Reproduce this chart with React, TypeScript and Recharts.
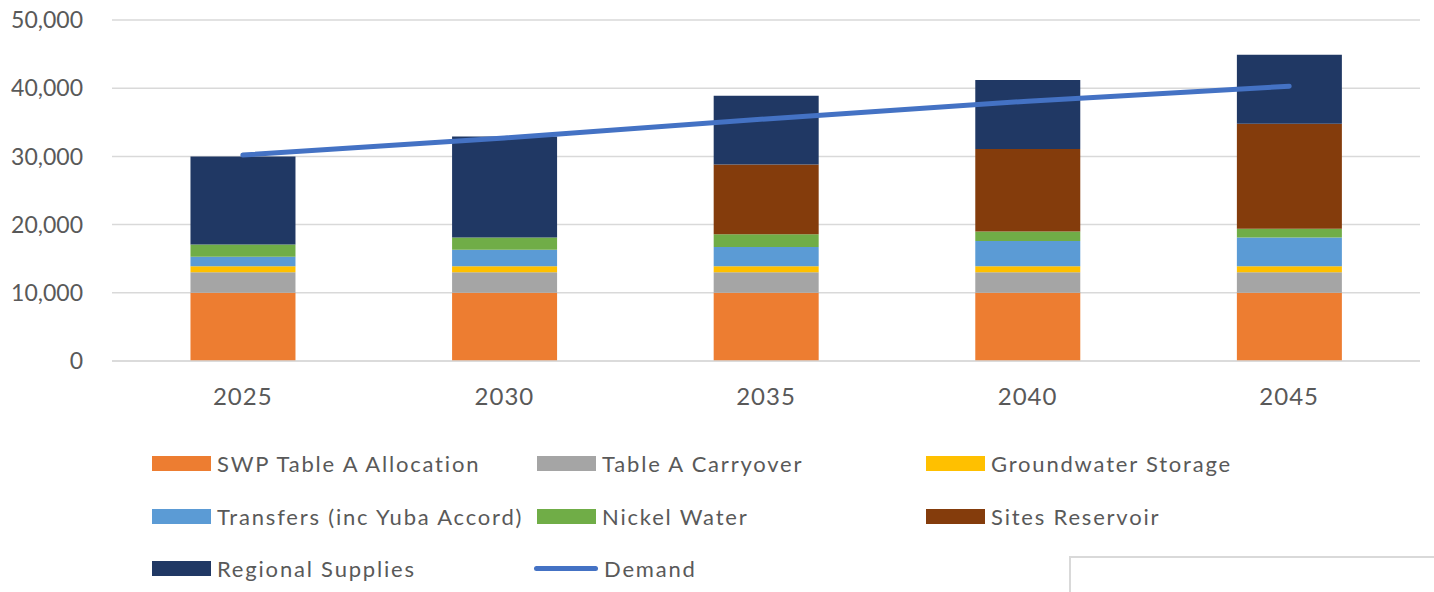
import {
  ComposedChart,
  Bar,
  Line,
  XAxis,
  YAxis,
  CartesianGrid,
} from "recharts";

const years = ["2025", "2030", "2035", "2040", "2045"];

const swpAllocation = [10000, 10000, 10000, 10000, 10000];
const carryover = [3000, 3000, 3000, 3000, 3000];
const groundwater = [900, 900, 900, 900, 900];
const transfers = [1400, 2400, 2800, 3700, 4200];
const nickelWater = [1800, 1800, 1900, 1400, 1300];
const sitesReservoir = [0, 0, 10200, 12100, 15400];
const regionalSupplies = [12900, 14800, 10100, 10100, 10100];
const demand = [30200, 32700, 35500, 38100, 40300];

const yTicks = [0, 10000, 20000, 30000, 40000, 50000];

const series = [
  { key: "swp", name: "SWP Table A Allocation", color: "#ED7D31", values: swpAllocation },
  { key: "carry", name: "Table A Carryover", color: "#A5A5A5", values: carryover },
  { key: "gw", name: "Groundwater Storage", color: "#FFC000", values: groundwater },
  { key: "transfers", name: "Transfers (inc Yuba Accord)", color: "#5B9BD5", values: transfers },
  { key: "nickel", name: "Nickel Water", color: "#70AD47", values: nickelWater },
  { key: "sites", name: "Sites Reservoir", color: "#843C0C", values: sitesReservoir },
  { key: "regional", name: "Regional Supplies", color: "#203864", values: regionalSupplies },
];

const DEMAND_COLOR = "#4472C4";
const TEXT = "#595959";
const GRID = "#D9D9D9";

const data = years.map((year, i) => {
  const row: Record<string, string | number> = { year, demand: demand[i] };
  series.forEach((s) => {
    row[s.key] = s.values[i];
  });
  return row;
});

const legendItems = [
  ...series.map((s) => ({ name: s.name, color: s.color, line: false })),
  { name: "Demand", color: DEMAND_COLOR, line: true },
];

const colX = [152, 537, 926];
const rowY = [463, 516, 568];

const ChartLegend = () => (
  <>
    {legendItems.map((item, i) => {
      const col = i % 3;
      const row = Math.floor(i / 3);
      return (
        <div
          key={item.name}
          style={{
            position: "absolute",
            left: colX[col],
            top: rowY[row] - 15,
            height: 30,
            display: "flex",
            alignItems: "center",
            whiteSpace: "nowrap",
          }}
        >
          {item.line ? (
            <div
              style={{
                width: 64,
                height: 5,
                borderRadius: 3,
                background: item.color,
                marginLeft: -3,
                marginRight: 6,
              }}
            />
          ) : (
            <div style={{ width: 59, height: 15, background: item.color, marginRight: 6 }} />
          )}
          <span
            style={{
              fontFamily: "Lato, sans-serif",
              fontSize: 22,
              color: TEXT,
              letterSpacing: 1.8,
            }}
          >
            {item.name}
          </span>
        </div>
      );
    })}
  </>
);

const App = () => {
  return (
    <div
      style={{
        position: "absolute",
        left: 0,
        top: 0,
        width: 1434,
        height: 592,
        overflow: "hidden",
        background: "#fff",
      }}
    >
      <ComposedChart
        width={1434}
        height={592}
        data={data}
        margin={{ top: 20, right: 14, bottom: 171, left: 0 }}
        barCategoryGap="30%"
      >
        <CartesianGrid vertical={false} stroke={GRID} strokeWidth={1.5} />
        <XAxis
          dataKey="year"
          height={60}
          axisLine={{ stroke: GRID, strokeWidth: 1.5 }}
          tickLine={false}
          tickMargin={21}
          tick={{ fill: TEXT, fontSize: 24, fontFamily: "Lato, sans-serif", letterSpacing: 1 }}
        />
        <YAxis
          width={112}
          domain={[0, 50000]}
          ticks={yTicks}
          axisLine={false}
          tickLine={false}
          tickMargin={23}
          tickFormatter={(v: number) => v.toLocaleString("en-US")}
          tick={{ fill: TEXT, fontSize: 23, fontFamily: "Lato, sans-serif" }}
        />
        {series.map((s) => (
          <Bar
            key={s.key}
            dataKey={s.key}
            name={s.name}
            stackId="supply"
            fill={s.color}
            isAnimationActive={false}
          />
        ))}
        <Line
          dataKey="demand"
          name="Demand"
          stroke={DEMAND_COLOR}
          strokeWidth={5}
          strokeLinecap="round"
          dot={false}
          activeDot={false}
          isAnimationActive={false}
        />
      </ComposedChart>
      <ChartLegend />
      <div
        style={{
          position: "absolute",
          left: 1069,
          top: 556,
          width: 400,
          height: 100,
          border: `2px solid ${GRID}`,
        }}
      />
    </div>
  );
};

export default App;
